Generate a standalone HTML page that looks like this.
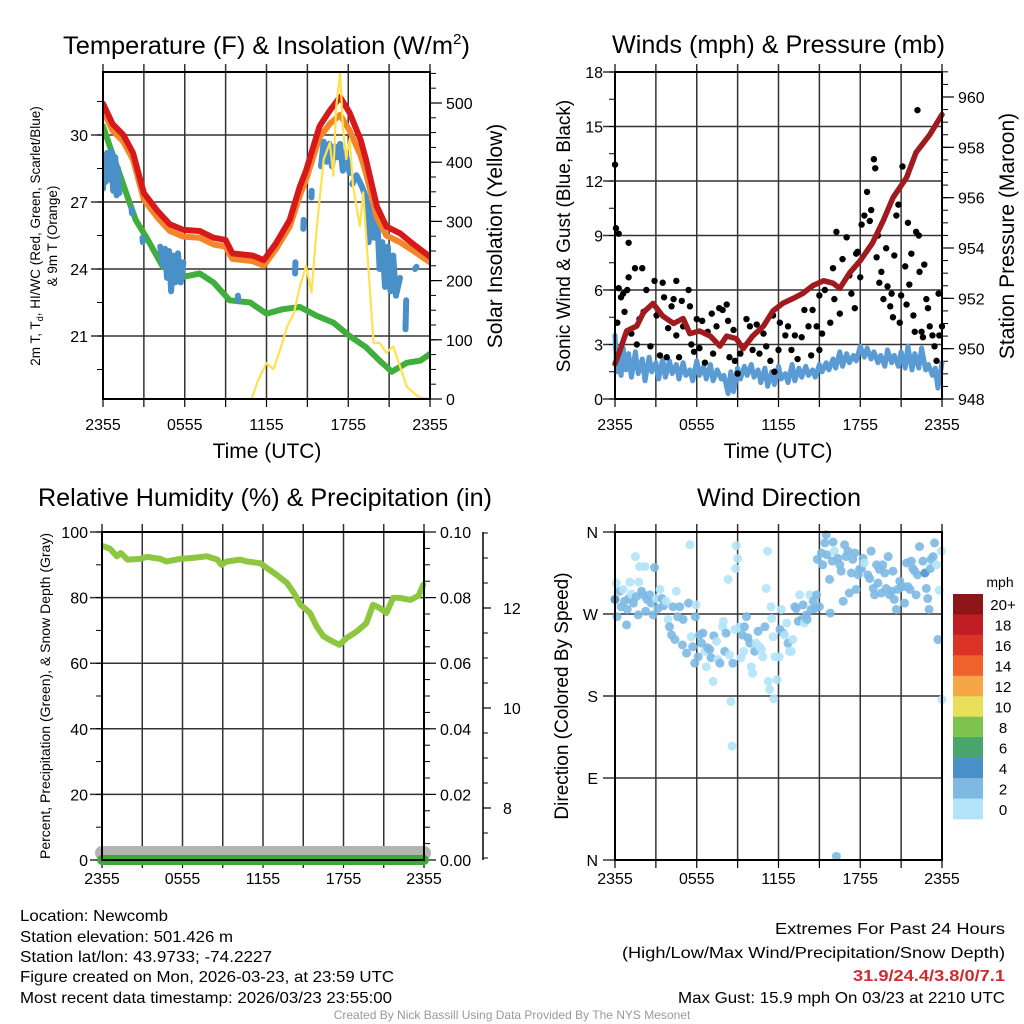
<!DOCTYPE html>
<html><head><meta charset="utf-8"><title>Newcomb Meteogram</title>
<style>
html,body{margin:0;padding:0;background:#fff;}
svg{display:block;font-family:"Liberation Sans",Arial,sans-serif;}
</style></head>
<body>
<svg id="root" width="1024" height="1024" viewBox="0 0 1024 1024">
<rect x="0" y="0" width="1024" height="1024" fill="#fff"/>
<g id="g"></g>
<text x="63" y="54" textLength="407" lengthAdjust="spacingAndGlyphs" font-size="25">Temperature (F) &amp; Insolation (W/m<tspan dy="-10" font-size="15">2</tspan><tspan dy="10">)</tspan></text>
<text x="612" y="53" textLength="333" lengthAdjust="spacingAndGlyphs" font-size="25">Winds (mph) &amp; Pressure (mb)</text>
<text x="38" y="506" textLength="454" lengthAdjust="spacingAndGlyphs" font-size="25">Relative Humidity (%) &amp; Precipitation (in)</text>
<text x="697" y="506" textLength="164" lengthAdjust="spacingAndGlyphs" font-size="25">Wind Direction</text>
<text x="267" y="458" text-anchor="middle" font-size="21">Time (UTC)</text>
<text x="778" y="458" text-anchor="middle" font-size="21">Time (UTC)</text>
<text transform="translate(40,236) rotate(-90)" text-anchor="middle" font-size="13.5"><tspan x="0" dy="0">2m T, T<tspan font-size="9" dy="3">d</tspan><tspan dy="-3">, HI/WC (Red, Green, Scarlet/Blue)</tspan></tspan><tspan x="0" dy="17">&amp; 9m T (Orange)</tspan></text>
<text transform="translate(502,236) rotate(-90)" text-anchor="middle" font-size="21">Solar Insolation (Yellow)</text>
<text transform="translate(570,236) rotate(-90)" text-anchor="middle" font-size="19">Sonic Wind &amp; Gust (Blue, Black)</text>
<text transform="translate(1014,236) rotate(-90)" text-anchor="middle" font-size="21">Station Pressure (Maroon)</text>
<text transform="translate(50,696) rotate(-90)" text-anchor="middle" font-size="14">Percent, Precipitation (Green), &amp; Snow Depth (Gray)</text>
<text transform="translate(568,696) rotate(-90)" text-anchor="middle" font-size="19">Direction (Colored By Speed)</text>
<text x="1000" y="587" text-anchor="middle" font-size="14">mph</text>
<g font-size="16">
<text x="20" y="921" textLength="148" lengthAdjust="spacingAndGlyphs">Location: Newcomb</text>
<text x="20" y="942" textLength="213" lengthAdjust="spacingAndGlyphs">Station elevation: 501.426 m</text>
<text x="20" y="962" textLength="252" lengthAdjust="spacingAndGlyphs">Station lat/lon: 43.9733; -74.2227</text>
<text x="20" y="982" textLength="374" lengthAdjust="spacingAndGlyphs">Figure created on Mon, 2026-03-23, at 23:59 UTC</text>
<text x="20" y="1003" textLength="372" lengthAdjust="spacingAndGlyphs">Most recent data timestamp: 2026/03/23 23:55:00</text>
</g>
<g font-size="16">
<text x="775" y="934" textLength="230" lengthAdjust="spacingAndGlyphs">Extremes For Past 24 Hours</text>
<text x="622" y="958" textLength="383" lengthAdjust="spacingAndGlyphs">(High/Low/Max Wind/Precipitation/Snow Depth)</text>
<text x="853" y="981" textLength="152" lengthAdjust="spacingAndGlyphs" fill="#d12a2f" font-weight="bold">31.9/24.4/3.8/0/7.1</text>
<text x="678" y="1003" textLength="327" lengthAdjust="spacingAndGlyphs">Max Gust: 15.9 mph On 03/23 at 2210 UTC</text>
</g>
<text x="512" y="1019" text-anchor="middle" font-size="12" fill="#999">Created By Nick Bassill Using Data Provided By The NYS Mesonet</text>
</svg>
<script>
// ---- data (hours since 2355 UTC) ----
const xTickLabels=["2355","","0555","","1155","","1755","","2355"];
const tempT=[0,0.7,1.5,2.2,3,4,4.9,5.9,7.1,8.1,9,9.5,11,11.8,12.7,13.7,14.45,14.9,15.9,16.65,17.4,18.1,18.9,19.3,20.1,20.8,21.8,22.8,24];
const tempRed=[31.4,30.5,30.0,29.2,27.4,26.6,26.0,25.75,25.7,25.4,25.3,24.7,24.6,24.4,25.15,26.2,27.7,28.4,30.4,31.1,31.7,31.0,29.8,28.9,26.8,25.9,25.6,25.1,24.55];
const tempOrange=[31.1,30.2,29.7,28.9,27.1,26.3,25.7,25.45,25.4,25.1,25.0,24.45,24.35,24.15,24.9,25.9,27.3,28.0,29.9,30.5,30.9,30.2,29.1,28.3,26.3,25.5,25.2,24.8,24.3];
const dewT=[0,0.5,1.2,1.7,2.4,3.2,4.4,5.9,7.1,8.1,9.3,10.8,12,13.2,14.45,15.7,16.9,18.1,19.3,20.3,21.2,22.3,23.3,24];
const dewV=[30.4,29.5,28.3,27.4,26.2,25.4,24.1,23.65,23.8,23.4,22.6,22.5,22.0,22.2,22.3,21.9,21.6,21.0,20.5,19.9,19.4,19.8,19.9,20.2];
const hiwcSegs=[
 [[0,27.6],[0.1,29],[0.2,27.9],[0.3,29.2],[0.45,28],[0.6,29.3],[0.75,27.5],[0.9,29],[1.0,27.3],[1.1,28.5],[1.2,27.4]],
 [[2.1,26.7],[2.12,26.5]],[[2.9,25.4],[2.92,25.2]],
 [[4.2,25.0],[4.4,24.2],[4.55,24.9],[4.7,23.6],[4.85,24.8],[5.0,23.0],[5.15,24.6],[5.3,23.4],[5.5,24.7],[5.7,23.4],[5.9,24.3]],
 [[9.9,22.8],[9.92,22.6]],[[14.1,23.8],[14.12,24.3]],[[14.7,25.8],[14.72,26.2]],[[15.3,27.2],[15.32,27.5]],
 [[16.0,28.6],[16.2,29.7],[16.4,28.8],[16.6,29.6],[16.8,28.6],[17.0,29.5],[17.2,29.0],[17.4,29.6],[17.6,28.4],[17.8,29.2],[18.1,28.3]],
 [[18.3,27.8],[18.6,28.2],[19.0,27.7],[19.3,27.2],[19.5,25.2],[19.7,27.0],[19.9,25.4],[20.1,26.6],[20.3,24.0],[20.5,25.2],[20.7,23.2],[20.9,25.0],[21.1,23.0],[21.3,24.6],[21.5,22.8],[21.8,23.6]],
 [[22.2,21.3],[22.25,22.6]],[[22.9,24.0],[23.0,24.1]]
];
const solarT=[0,10.9,11.4,12.0,12.5,13.0,13.5,14.0,14.45,14.9,15.3,15.7,16.2,16.65,16.9,17.1,17.4,17.6,17.85,18.1,18.35,18.85,19.1,19.35,19.6,19.85,20.3,20.8,21.3,21.8,22.3,22.8,23.3,24];
const solarW=[0,0,32,61,50,83,121,145,190,225,180,292,405,433,377,490,552,461,405,439,360,292,349,264,180,95,95,78,89,55,21,10,2,0];
const presT=[0,0.4,0.85,1.6,2.1,2.8,3.5,4.3,5.0,5.5,6.2,7.0,7.7,8.2,8.9,9.4,10.1,10.9,11.6,12.3,13.1,13.8,14.5,15.3,16.0,16.5,17.2,18.0,18.9,19.7,20.4,21.4,22.1,23.1,24];
const presV=[949.4,950.0,950.7,950.9,951.45,951.8,951.3,951.0,951.2,950.6,950.7,950.5,950.1,950.5,950.4,950.0,950.5,950.9,951.5,951.8,952.0,952.2,952.5,952.7,952.6,952.4,953.0,953.5,954.2,955.1,956.0,956.8,957.8,958.5,959.3];
const windT=[0,0.15,0.3,0.45,0.6,0.8,1,1.2,1.5,1.7,2,2.2,2.5,2.7,3,3.2,3.5,3.7,4,4.2,4.5,4.7,5,5.2,5.5,5.7,6,6.2,6.5,6.7,7,7.2,7.5,7.8,8,8.3,8.5,8.7,9,9.2,9.5,9.7,10,10.2,10.5,10.7,11,11.2,11.5,11.7,12,12.2,12.5,12.7,13,13.2,13.5,13.7,14,14.2,14.5,14.7,15,15.2,15.5,15.7,16,16.2,16.5,16.7,17,17.2,17.5,17.7,18,18.3,18.5,18.8,19,19.3,19.5,19.8,20,20.3,20.5,20.8,21,21.3,21.5,21.8,22,22.3,22.5,22.8,23,23.3,23.5,23.7,24];
const windV=[3.5,1.5,2.6,1.3,2.8,1.6,2.5,1.2,2.6,1.4,2.2,1.0,2.3,1.5,2.0,1.1,2.2,1.2,2.1,1.4,1.9,1.1,2.0,1.3,1.6,1.0,2.1,1.3,1.8,1.1,1.9,1.0,1.6,1.1,1.3,0.3,1.5,0.4,1.7,1.1,1.8,1.3,1.9,1.2,1.6,0.9,1.7,0.7,1.5,0.8,1.8,1.1,1.4,0.9,1.9,1.0,1.7,1.2,1.8,1.3,1.6,1.2,1.9,1.5,2.0,1.6,2.2,1.7,2.6,1.8,2.5,2.0,2.4,2.1,2.9,2.3,2.8,2.2,2.6,2.0,2.4,1.8,2.7,2.0,2.4,1.8,2.6,1.7,2.9,1.6,2.5,1.7,2.8,1.6,1.9,1.3,1.7,0.6,2.0];
const gustT=[0,0.07,0.27,0.17,0.27,0.44,0.6,0.7,0.9,1.0,1.0,1.2,1.47,2.0,1.6,1.8,2.1,2.3,2.6,2.9,3.05,3.3,3.5,3.6,3.8,3.9,4.15,4.3,4.5,4.5,4.7,4.9,5.0,5.4,5.5,5.6,5.8,6.0,6.2,6.4,6.6,6.8,7.1,7.2,7.45,7.65,7.9,8.2,8.3,8.4,8.7,8.8,9.0,9.2,9.4,9.65,9.9,10.1,10.4,10.6,10.9,11.1,11.4,11.6,11.7,12.0,12.1,12.5,12.7,12.95,13.2,13.4,13.7,13.9,14.2,14.4,14.5,14.8,15.0,15.0,15.2,15.4,15.8,16.0,16.1,16.25,16.5,16.7,17.0,17.2,17.35,17.6,17.7,17.8,18.0,18.1,18.3,18.5,18.7,18.8,19.0,19.1,19.2,19.3,19.4,19.55,19.7,19.9,20.0,20.2,20.3,20.4,20.5,20.65,20.8,20.9,21.0,21.1,21.3,21.4,21.5,21.6,21.75,21.9,22.0,22.2,22.1,22.3,22.35,22.5,22.6,22.7,22.85,22.97,23.1,23.3,23.45,23.6,23.75,23.8,24];
const gustV=[12.9,9.4,9.1,4.2,6.1,5.6,5.8,4.8,6.0,8.6,6.7,3.6,7.2,7.2,3.0,4.4,4.8,6.0,2.9,6.5,4.6,2.4,6.4,5.6,2.3,3.9,5.1,5.5,6.5,3.5,2.3,5.4,4.0,6.0,5.1,3.0,2.6,4.4,2.8,4.3,2.0,3.7,4.7,2.5,4.0,5.0,4.9,5.2,4.3,2.3,3.8,2.1,1.4,2.5,2.9,4.4,4.0,2.7,4.1,2.5,3.6,2.9,2.1,4.6,1.5,2.7,4.2,3.5,4.0,2.7,3.5,2.2,3.4,4.9,4.0,2.4,4.9,4.0,5.7,2.7,3.6,6.0,4.2,7.2,5.5,9.2,4.7,7.7,8.9,6.8,5.8,5.0,8.0,8.1,6.7,9.6,10.1,11.4,9.8,10.4,13.2,12.7,7.8,9.0,6.4,7.0,5.5,8.3,6.2,5.1,5.8,4.5,7.9,10.1,10.7,4.2,5.7,12.8,7.3,5.2,9.7,6.3,8.0,4.6,3.7,15.9,9.2,9.0,7.0,3.7,3.4,7.4,5.5,5.0,4.0,3.5,2.9,2.1,5.8,3.5,4.0];
const rhT=[0,0.6,1.1,1.4,1.9,2.85,3.35,4.35,4.8,5.8,6.8,7.8,8.6,8.9,9.3,10.3,10.8,11.8,12.3,13.0,13.8,14.3,14.8,15.5,16.0,16.5,17.2,17.7,18.2,19.0,19.7,20.2,20.7,21.2,21.7,22.2,23.0,23.6,23.95];
const rhV=[95.8,94.9,92.6,93.6,91.6,91.8,92.4,91.8,91.0,91.8,92.1,92.6,91.6,90.0,91.0,91.6,91.0,90.5,89.0,87.0,84.4,81.4,77.8,75.3,71.2,68.2,66.6,65.6,67.6,69.7,72.2,77.8,76.8,75.3,79.9,79.9,79.3,80.6,83.9];
const precipT=[0,24];
const precipV=[0,0];
const snowT=[0,24];
const snowV=[7.1,7.1];
const dirT=[0,0.1,0.15,0.35,0.45,0.6,0.7,0.85,0.9,1.0,1.1,1.2,1.35,1.5,1.55,1.7,1.75,1.8,1.95,2.05,2.2,2.25,2.35,2.55,2.65,2.8,2.9,3.05,3.15,3.3,3.45,3.55,3.75,3.9,4.0,4.15,4.25,4.4,4.5,4.6,4.75,4.95,5.0,5.25,5.4,5.5,5.6,5.7,5.85,5.95,5.9,6.1,6.2,6.35,6.45,6.6,6.7,6.8,6.95,7.05,7.2,7.25,7.45,7.55,7.7,7.9,7.95,8.05,8.15,8.3,8.4,8.5,8.6,8.65,8.8,8.85,8.9,9.0,9.15,9.25,9.35,9.45,9.5,9.65,9.75,9.9,10.0,10.1,10.25,10.35,10.5,10.6,10.75,10.85,11.0,11.1,11.2,11.25,11.35,11.45,11.5,11.6,11.65,11.75,11.9,12.05,12.1,12.2,12.35,12.45,12.6,12.7,12.8,12.95,13.05,13.2,13.3,13.45,13.55,13.7,13.8,13.9,14.05,14.1,14.3,14.4,14.55,14.65,14.8,14.85,15.0,15.15,15.25,15.4,15.5,15.55,15.75,15.8,15.95,16.0,16.1,16.25,16.35,16.5,16.6,16.75,16.85,16.95,17.1,17.2,17.35,17.45,17.6,17.7,17.85,17.95,18.1,18.2,18.3,18.55,18.7,18.8,18.95,19.05,19.2,19.3,19.4,19.55,19.65,19.8,19.9,20.05,20.15,20.3,20.4,20.5,20.65,20.75,20.9,21.0,21.15,21.25,21.4,21.5,21.65,21.75,21.85,22.0,22.1,22.2,22.35,22.6,22.75,22.85,22.95,23.05,23.15,23.2,23.35,23.45,23.6,23.7,23.8,23.95,24.0];
const dirDeg=[286,304,267,295,278,297,284,258,275,287,305,292,282,333,289,269,305,322,295,291,322,273,286,291,282,269,321,287,276,297,287,279,284,264,256,247,278,242,295,267,278,236,264,227,282,346,245,234,216,280,267,223,247,238,249,229,212,233,231,222,196,246,240,220,216,256,262,229,249,308,225,174,125,216,253,320,345,331,256,222,247,229,256,267,244,238,212,205,229,238,251,234,231,223,256,298,339,196,187,278,265,245,177,223,198,223,253,275,249,247,260,238,229,229,242,278,276,262,291,264,280,260,269,264,291,275,284,276,291,330,278,337,324,348,357,335,308,271,328,349,339,4,331,324,317,284,346,333,339,293,315,330,337,297,313,319,320,331,326,313,309,339,298,291,324,304,319,293,324,315,298,333,291,295,317,286,275,297,306,300,300,282,326,300,297,328,320,317,291,313,344,328,315,298,287,275,320,330,333,348,324,242,296,339,176];
const dirSpd=[5,1,3,3,3,1,3,3,3,3,1,1,3,1,3,3,1,1,3,3,1,3,3,3,3,3,3,1,3,1,3,3,1,1,3,3,3,3,1,3,3,3,3,3,3,1,1,3,3,1,3,3,3,3,3,1,1,3,3,3,1,3,1,1,3,1,1,3,3,1,1,1,1,3,1,1,1,1,1,1,3,1,3,3,3,3,1,1,3,1,3,1,1,1,3,1,1,1,1,1,1,1,1,1,1,1,3,1,3,1,1,3,1,1,1,3,3,3,1,3,3,1,3,3,1,3,3,3,3,3,3,3,3,3,3,3,3,3,3,3,1,3,3,3,3,3,3,3,3,3,3,3,3,3,3,3,3,3,1,3,3,3,3,3,3,3,3,3,3,3,3,3,3,3,3,3,3,3,3,3,3,3,3,3,3,3,3,3,3,3,3,3,5,3,3,3,3,3,3,3,1,3,1,1,1,3,1,1];
const cbLabels=["20+","18","16","14","12","10","8","6","4","2","0"];
const cbColors=["#8e1518","#be1e24","#dc3327","#ef622b","#f6a646","#e8e05b","#7dc24c","#48a56c","#4a90c8","#7db9e3","#b3e3f8"];
const tempTicks=[21,24,27,30];
const solarTicks=[0,100,200,300,400,500];
const windTicks=[0,3,6,9,12,15,18];
const presTicks=[948,950,952,954,956,958,960];
const rhTicks=[0,20,40,60,80,100];
const precipTicks=["0.00","0.02","0.04","0.06","0.08","0.10"];
const snowTicks=[8,10,12];
const dirTicks=["N","E","S","W","N"];

// ---- rendering ----
const NS="http://www.w3.org/2000/svg";
const G=document.getElementById('g');
function mk(tag,attrs,parent){const e=document.createElementNS(NS,tag);for(const k in attrs)e.setAttribute(k,attrs[k]);(parent||G).appendChild(e);return e;}
function lin(d0,d1,r0,r1){return v=>r0+(v-d0)/(d1-d0)*(r1-r0);}

function frame(x0,x1,y0,y1,name,xlab,xlabelY){
  const xs=lin(0,24,x0,x1);
  for(let i=0;i<=8;i++){
    const x=xs(i*3);
    const l=mk('line',{x1:x,x2:x,y1:y0-8,y2:y1,stroke:'#333','stroke-width':1.5});
    
    
    const t=mk('line',{x1:x,x2:x,y1:y1,y2:y1+8,stroke:'#000','stroke-width':1.2});
    
    
    if(xlab&&xTickLabels[i]){
      const tx=mk('text',{x:x,y:xlabelY,'text-anchor':'middle','font-size':16});
      tx.textContent=xTickLabels[i];
      
      
    }
  }
  return xs;
}
function hgrid(ys,vals,x0,x1,name,labx,fs,labels){
  vals.forEach((v,i)=>{
    const y=ys(v);
    const l=mk('line',{x1:x0-12,x2:x1,y1:y,y2:y,stroke:'#333','stroke-width':1.5});
    
    
    const t=mk('text',{x:labx,y:y+6,'text-anchor':'end','font-size':fs});
    t.textContent=labels?labels[i]:v;
    
    
  });
}
function minorTicks(ys,from,to,step,x,dir,len,name){
  for(let v=from;v<=to+1e-9;v+=step){
    const y=ys(v);
    const l=mk('line',{x1:x,x2:x+dir*len,y1:y,y2:y,stroke:'#000','stroke-width':1});
    
    
  }
}
function rightAxis(ys,vals,x,name,labels,ext){
  vals.forEach((v,i)=>{
    const y=ys(v);
    const l=mk('line',{x1:x,x2:x+(ext||12),y1:y,y2:y,stroke:'#000','stroke-width':1.2});
    
    
    const t=mk('text',{x:x+16,y:y+6,'font-size':16});
    t.textContent=labels?labels[i]:v;
    
    
  });
}
function path(xs,ys,T,V,attrs,name){
  let d='';
  T.forEach((t,i)=>{d+=(i?'L':'M')+xs(t).toFixed(1)+','+ys(V[i]).toFixed(1);});
  const p=mk('path',Object.assign({d:d,fill:'none','stroke-linecap':'round','stroke-linejoin':'round'},attrs));
  
  
  return p;
}
function box(x0,x1,y0,y1,name){
  const r=mk('rect',{x:x0,y:y0,width:x1-x0,height:y1-y0,fill:'none',stroke:'#000','stroke-width':2});
  
  
}

// Panel 1: temperature
(function(){
  const x0=103,x1=430,y0=72,y1=399;
  const xs=frame(x0,x1,y0,y1,'temp',true,430);
  const ys=lin(30,21,135,336);
  const ysol=lin(0,500,399,103);
  hgrid(ys,tempTicks,x0,x1,'temp',88,16);
  minorTicks(ys,19.5,31.5,1.5,x0,-1,6,'temp-minor-tick');
  minorTicks(ysol,0,550,25,x1,1,6,'solar-minor-tick');
  rightAxis(ysol,solarTicks,x1,'solar-axis');
  const clip=mk('clipPath',{id:'c1'});mk('rect',{x:x0,y:y0,width:x1-x0,height:y1-y0},clip);
  const g=mk('g',{'clip-path':'url(#c1)'});
  const sy=(v)=>ysol(v);
  let p;
  p=path(xs,ys,dewT,dewV,{stroke:'#3fae3c','stroke-width':6},'dewpoint-line');g.appendChild(p);
  hiwcSegs.forEach(seg=>{p=path(xs,ys,seg.map(a=>a[0]),seg.map(a=>a[1]),{stroke:'#4a90c8','stroke-width':6},'heat-index-wind-chill-line');g.appendChild(p);});
  p=path(xs,ys,tempT,tempOrange,{stroke:'#f4862a','stroke-width':6},'temp-9m-line');g.appendChild(p);
  p=path(xs,ys,tempT,tempRed,{stroke:'#d7191c','stroke-width':6},'temp-2m-line');g.appendChild(p);
  p=path(xs,sy,solarT,solarW,{stroke:'#ffe14f','stroke-width':2.2},'solar-line');g.appendChild(p);
  box(x0,x1,y0,y1,'temp-plot-frame');
})();

// Panel 2: winds & pressure
(function(){
  const x0=615,x1=942,y0=72,y1=399;
  const xs=frame(x0,x1,y0,y1,'wind',true,430);
  const ys=lin(0,18,399,72);
  const yp=lin(948,960,399,97);
  hgrid(ys,windTicks,x0,x1,'wind',603,16);
  minorTicks(ys,0,18,1.5,x0,-1,6,'wind-minor-tick');
  minorTicks(yp,948,961,0.5,x1,1,6,'pressure-minor-tick');
  rightAxis(yp,presTicks,x1,'pressure-axis');
  const clip=mk('clipPath',{id:'c2'});mk('rect',{x:x0-3,y:y0,width:x1-x0+6,height:y1-y0},clip);
  const g=mk('g',{'clip-path':'url(#c2)'});
  let p=path(xs,ys,windT,windV,{stroke:'#5a9bd4','stroke-width':5},'sonic-wind-line');g.appendChild(p);
  gustT.forEach((t,i)=>{
    const c=mk('circle',{cx:xs(t),cy:ys(gustV[i]),r:3.2,fill:'#000'},g);
    
    
  });
  p=path(xs,yp,presT,presV,{stroke:'#a01b1e','stroke-width':5.5},'pressure-line');g.appendChild(p);
  box(x0,x1,y0,y1,'wind-plot-frame');
})();

// Panel 3: humidity
(function(){
  const x0=102,x1=424,y0=532,y1=860;
  const xs=frame(x0,x1,y0,y1,'rh',true,884);
  const ys=lin(0,100,860,532);
  const ysn=lin(12,8,608,808);
  hgrid(ys,rhTicks,x0,x1,'rh',88,16);
  minorTicks(ys,0,100,10,x0,-1,6,'rh-minor-tick');
  minorTicks(ys,0,100,5,x1,1,6,'precip-minor-tick');
  rightAxis(ys,rhTicks,x1,'precip-axis',precipTicks);
  const ax=mk('line',{x1:483,x2:483,y1:532,y2:860,stroke:'#000','stroke-width':1.5});
  
  
  minorTicks(ysn,7,13.5,0.5,483,1,5,'snow-minor-tick');
  snowTicks.forEach(v=>{
    const t=mk('text',{x:503,y:ysn(v)+6,'font-size':16});t.textContent=v;
    
    
    const l=mk('line',{x1:483,x2:491,y1:ysn(v),y2:ysn(v),stroke:'#000','stroke-width':1.2});
    
    
  });
  path(xs,ysn,snowT,snowV,{stroke:'#b3b3b3','stroke-width':14},'snow-depth-line');
  path(xs,ys,precipT,precipV,{stroke:'#3aaa35','stroke-width':10},'precip-line');
  const clip=mk('clipPath',{id:'c3'});mk('rect',{x:x0,y:y0,width:x1-x0+4,height:y1-y0},clip);
  const g=mk('g',{'clip-path':'url(#c3)'});
  const p=path(xs,ys,rhT,rhV,{stroke:'#8dc63f','stroke-width':6},'rh-line');g.appendChild(p);
  box(x0,x1,y0,y1,'rh-plot-frame');
})();

// Panel 4: wind direction
(function(){
  const x0=615,x1=942,y0=532,y1=860;
  const xs=frame(x0,x1,y0,y1,'dir',true,884);
  const ys=lin(0,360,860,532);
  hgrid(ys,[0,90,180,270,360],x0,x1,'dir',598,16,dirTicks);
  function col(s){const bin=Math.min(10,Math.floor(Math.max(0,s)/2));return cbColors[10-bin];}
  dirT.forEach((t,i)=>{
    const c=mk('circle',{cx:xs(t),cy:ys(dirDeg[i]),r:4.5,fill:col(dirSpd[i]),'fill-opacity':0.9});
    
    
  });
  box(x0,x1,y0,y1,'dir-plot-frame');
  const bh=225/11;
  cbColors.forEach((c,i)=>{
    const r=mk('rect',{x:953,y:594+i*bh,width:30,height:bh+0.3,fill:c});
    
    
    const t=mk('text',{x:1003,y:594+i*bh+bh/2+6,'text-anchor':'middle','font-size':15});
    t.textContent=cbLabels[i];
    
    
  });
})();
</script>
</body></html>
